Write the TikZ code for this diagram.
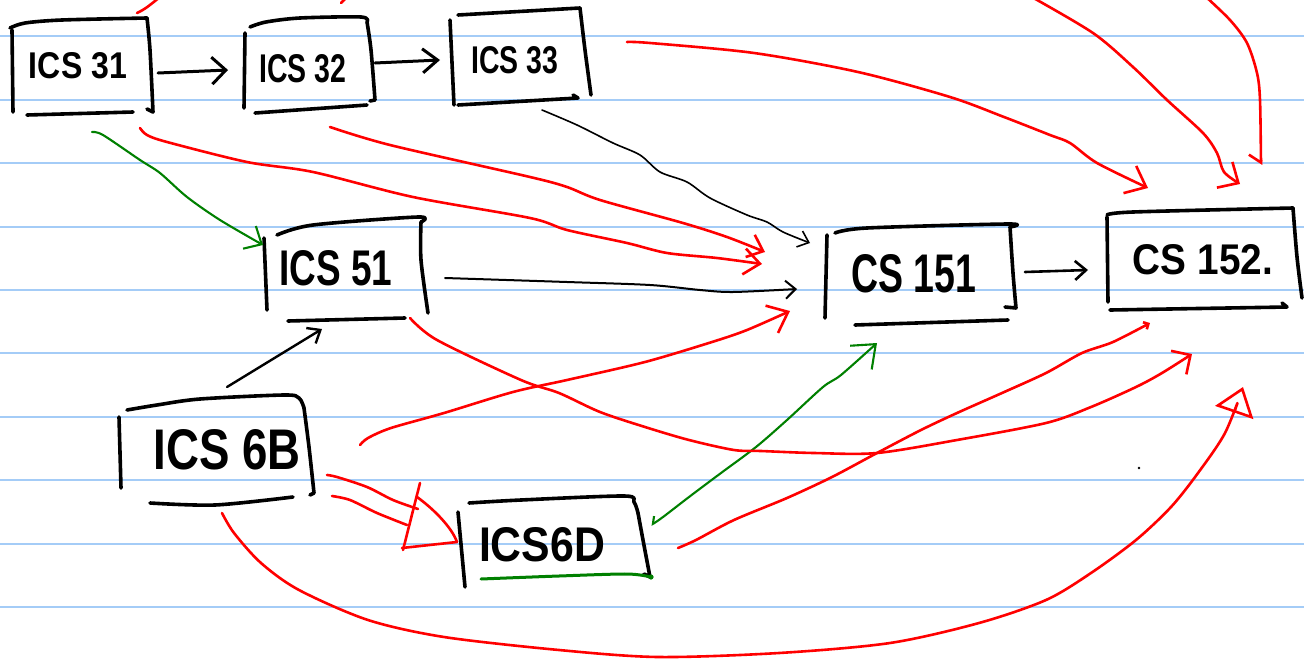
\documentclass[tikz,border=0pt]{standalone}
\usepackage{graphicx}
\usepackage{fontspec}
\setmainfont{Liberation Sans}
\usetikzlibrary{arrows.meta,calc}
\definecolor{rulecol}{RGB}{164,204,247}
\definecolor{penred}{RGB}{255,0,0}
\definecolor{pengreen}{RGB}{0,128,0}
\begin{document}
\begin{tikzpicture}[x=1pt,y=-1pt,
  ruling/.style={draw=rulecol,line width=2pt},
  pen/.style={draw=black,line width=3.6pt,line cap=round,line join=round},
  greenpen/.style={draw=pengreen,line width=3pt,line cap=round},
  redarr/.style={draw=penred,line width=2.6pt,line cap=round,line join=round},
  greenarr/.style={draw=pengreen,line width=2.1pt,line cap=round,line join=round},
  thinarr/.style={draw=black,line width=1.7pt,line cap=round,line join=round},
  thickarr/.style={draw=black,line width=3pt,line cap=round,line join=round},
  course/.style={inner sep=0pt,outer sep=0pt,font=\bfseries}]
\fill[white] (0,0) rectangle (1304,664);
\useasboundingbox (0,0) rectangle (1304,664);
\foreach \k in {0,...,9} \draw[ruling] (0,{36.3+63.4*\k}) -- (1304,{36.3+63.4*\k});

% ---------- course nodes ----------
\node[course] (c31)  at (78,66)   {\resizebox{98pt}{26pt}{ICS 31}};
\node[course] (c32)  at (303,69)  {\resizebox{87pt}{28pt}{ICS 32}};
\node[course] (c33)  at (515,60)  {\resizebox{87pt}{27pt}{ICS 33}};
\node[course] (c51)  at (336,268) {\resizebox{113pt}{35pt}{ICS 51}};
\node[course] (c6B)  at (227,450) {\resizebox{147pt}{40pt}{ICS 6B}};
\node[course] (c6D)  at (542,545) {\resizebox{126pt}{34pt}{ICS6D}};
\node[course] (c151) at (914,274) {\resizebox{125pt}{38pt}{CS 151}};
\node[course] (c152) at (1203,260){\resizebox{140pt}{30pt}{CS 152.}};

% ---------- hand-drawn boxes ----------
% ICS 31
\draw[pen] (12,30) -- (13,112);
\draw[pen] plot[smooth] coordinates {(10,28) (25,23) (62,20) (147,18)};
\draw[pen] plot[smooth] coordinates {(147,18) (150,50) (153,112)} -- (147,109);
\draw[pen] (27,115) -- (133,112);
% ICS 32
\draw[pen] (245,33) -- (244,108);
\draw[pen] plot[smooth] coordinates {(250,27) (266,22) (300,18) (361,17) (367,22)};
\draw[pen] plot[smooth] coordinates {(367,22) (371,50) (375,100)} -- (370,101);
\draw[pen] (255,113) -- (367,105);
% ICS 33
\draw[pen] (450,20) -- (454,105);
\draw[pen] (458,15) -- (580,8);
\draw[pen] plot[smooth] coordinates {(580,8) (585,50) (591,95)};
\draw[pen] (458,105) -- (578,98) -- (573,95);
% ICS 51
\draw[pen] (264,238) -- (267,310);
\draw[pen] plot[smooth] coordinates {(277,235) (313,225) (418,217) (421,222)};
\draw[pen] plot[smooth] coordinates {(421,222) (421,260) (428,313)};
\draw[pen] (288,321) -- (405,318);
% ICS 6B
\draw[pen] (119,417) -- (121,488);
\draw[pen] plot[smooth] coordinates {(127,410) (157,405) (200,399) (284,395) (299,398) (304,408)};
\draw[pen] plot[smooth] coordinates {(304,408) (309,447) (314,493)} -- (310,495);
\draw[pen] plot[smooth] coordinates {(150,503) (215,505) (293,497)};
% ICS 6D
\draw[pen] (458,512) -- (465,587);
\draw[pen] plot[smooth] coordinates {(469,503) (521,500) (624,496) (634,502) (638,513)};
\draw[pen] plot[smooth] coordinates {(638,513) (643,540) (650,577)} -- (644,574);
\draw[greenpen] plot[smooth] coordinates {(481,579) (559,576) (627,574) (651,577)};
\fill[pengreen] (651,577) circle (2.6);
% CS 151
\draw[pen] (827,235) -- (825,318);
\draw[pen] plot[smooth] coordinates {(835,233) (867,228) (1008,224) (1010,227)};
\draw[pen] plot[smooth] coordinates {(1010,227) (1013,273) (1016,308)} -- (1005,307);
\draw[pen] (855,325) -- (1008,320);
% CS 152
\draw[pen] (1107,217) -- (1108,302);
\draw[pen] plot[smooth] coordinates {(1107,215) (1133,212) (1293,208)};
\draw[pen] plot[smooth] coordinates {(1293,208) (1297,257) (1302,298)};
\draw[pen] (1110,310) -- (1287,307) -- (1282,303);

% ---------- free ends off the page ----------
\coordinate (topA) at (1030,-4);
\coordinate (topB) at (1205,-4);
\coordinate (topC) at (160,-3);
\coordinate (topD) at (346,-2);

% ---------- black connectors ----------
\draw[thickarr,-{Straight Barb[length=14pt,width=27pt]}] ($(c31)+(80,7)$) -- ($(c32)+(-75,1)$);
\draw[thickarr,-{Straight Barb[length=15pt,width=24pt]}] ($(c32)+(72,-6)$) -- ($(c33)+(-75,0)$);
\draw[thickarr,line width=2.6pt,-{Straight Barb[length=11pt,width=19pt]}] ($(c151)+(111,-2)$) -- ($(c152)+(-115,10)$);
\draw[thinarr,line width=2.4pt,-{Straight Barb[length=11pt,width=18pt]}] ($(c6B)+(0,-63)$) -- ($(c51)+(-14,61)$);
\draw[thinarr,line width=1.6pt,-{Straight Barb[length=10pt,width=17pt]}] plot[smooth,tension=0.5] coordinates {($(c33)+(27,50)$) (577,125) (613,143) (640,155) (660,172) (687,182) (710,198) (747,215) (767,222) (783,232) ($(c151)+(-104,-31)$)};
\draw[thinarr,line width=2pt,-{Straight Barb[length=10pt,width=18pt]}] plot[smooth] coordinates {($(c51)+(109,10)$) (567,282) (650,285) (700,290) (733,292) ($(c151)+(-117,15)$)};

% ---------- green connectors ----------
\draw[greenarr,-{Straight Barb[length=14pt,width=26pt]}] plot[smooth] coordinates {($(c31)+(14,66)$) (103,135) (140,160) (160,173) (187,197) (220,220) ($(c51)+(-73,-23)$)};
\draw[greenarr,{Straight Barb[length=5pt,width=12pt,right]}-{Straight Barb[length=20pt,width=32pt]}] plot[smooth] coordinates {($(c6D)+(109,-20)$) (663,517) (689,497) (721,473) (756,447) (787,420) (823,387) (841,375) ($(c151)+(-37,69)$)};

% ---------- red connectors ----------
\draw[redarr] ($(c31)+(59,-53)$) .. controls (145,9) .. (topC);
\draw[redarr] ($(c32)+(38,-66)$) -- (topD);
\draw[redarr,-{Straight Barb[length=16pt,width=26pt]}] plot[smooth] coordinates {($(c31)+(62,62)$) (147,135) (167,142) (247,162) (313,172) (413,197) (530,218) (567,230) (627,243) (667,253) (717,258) ($(c151)+(-152,-10)$)};
\draw[redarr,-{Straight Barb[length=14pt,width=24pt]}] plot[smooth] coordinates {($(c32)+(27,58)$) (390,145) (530,177) (567,187) (600,200) (683,223) (727,237) ($(c151)+(-149,-22)$)};
\draw[redarr,-{Straight Barb[length=18pt,width=30pt]}] plot[smooth] coordinates {($(c6B)+(133,-5)$) (368,438) (391,428) (444,413) (513,392) (567,380) (645,362) (712,342) (747,330) ($(c151)+(-124,37)$)};
\draw[redarr,-{Straight Barb[length=18pt,width=30pt]}] plot[smooth] coordinates {($(c33)+(112,-18)$) (650,43) (754,53) (858,72) (950,97) (1004,117) (1050,135) (1070,143) (1097,163) ($(c152)+(-55,-72)$)};
\draw[redarr,-{Straight Barb[length=16pt,width=30pt]}] plot[smooth] coordinates {(topA) (1093,33) (1133,67) (1167,100) (1203,133) (1217,153) (1224,172) ($(c152)+(37,-76)$)};
\draw[redarr,-{Straight Barb[length=8pt,width=24pt,right]}] plot[smooth] coordinates {(topB) (1230,20) (1247,43) (1257,73) (1260,100) ($(c152)+(58,-95)$)};
\draw[redarr,-{Straight Barb[length=14pt,width=28pt]}] plot[smooth] coordinates {($(c51)+(74,50)$) (437,340) (521,380) (559,393) (600,412) (645,427) (689,440) (734,450) (761,451) (814,453) (877,453) (957,440) (1046,423) (1091,407) (1136,387) (1162,373) ($(c152)+(-11,94)$)};
\draw[redarr,-{Straight Barb[length=4pt,width=8pt]}] plot[smooth] coordinates {($(c6D)+(136,3)$) (696,540) (734,520) (787,498) (832,477) (877,453) (921,430) (957,413) (1002,393) (1046,373) (1082,353) (1113,342) ($(c152)+(-53,63)$)};
\draw[redarr,-{Triangle[open,length=27pt,width=40pt]}] plot[smooth] coordinates {($(c6B)+(-5,63)$) (234,533) (261,563) (299,590) (368,620) (444,637) (559,650) (658,657) (779,653) (890,643) (979,623) (1046,600) (1091,573) (1136,540) (1171,507) (1198,473) (1225,433) ($(c152)+(40,127)$)};
% double arrow ICS 6B => ICS 6D
\draw[redarr] plot[smooth] coordinates {($(c6B)+(100,25)$) (337,477) (367,487) (393,500) ($(c6D)+(-124,-36)$)};
\draw[redarr] plot[smooth] coordinates {($(c6B)+(105,46)$) (350,500) (377,513) ($(c6D)+(-135,-20)$)};
\draw[redarr] ($(c6D)+(-122,-62)$) -- ($(c6D)+(-139,5)$);
\draw[redarr] ($(c6D)+(-140,3)$) -- ($(c6D)+(-85,-3)$);
\draw[redarr] ($(c6D)+(-125,-48)$) .. controls (435,510) and (452,528) .. ($(c6D)+(-85,-3)$);

% stray dot
\fill (1139,468) circle (1.3);
\end{tikzpicture}
\end{document}
